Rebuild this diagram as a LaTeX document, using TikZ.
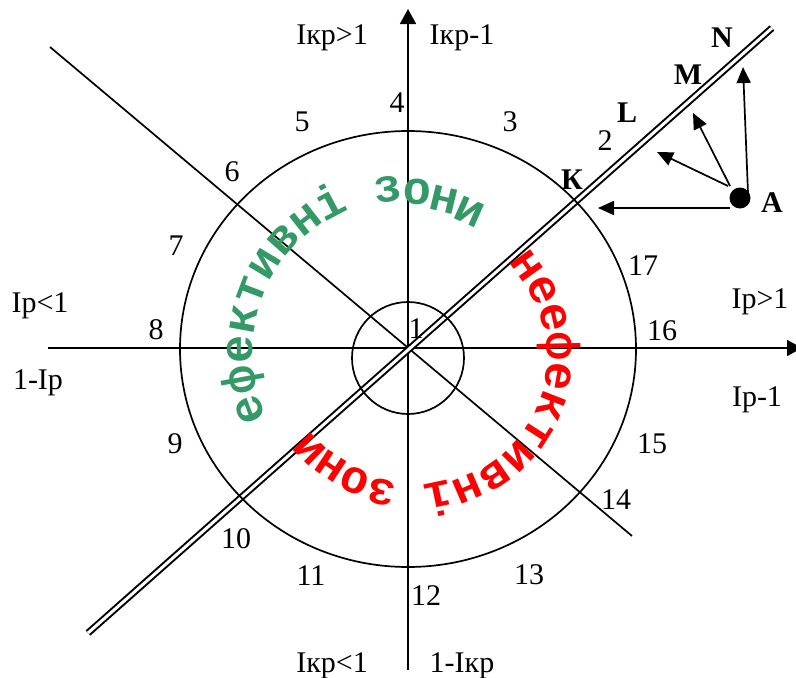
\documentclass[tikz,border=0pt]{standalone}
\usepackage{fontspec}
\setmainfont{Liberation Serif}
\newfontfamily\arcfont{Liberation Mono}
\usetikzlibrary{arrows.meta}
\definecolor{zgreen}{RGB}{51,153,102}
\definecolor{zred}{RGB}{255,0,0}
\begin{document}
\begin{tikzpicture}[x=1pt,y=-1pt,line width=1.7pt,
  lbl/.style={font=\fontsize{30}{30}\selectfont,inner sep=0pt},
  blbl/.style={font=\fontsize{30}{30}\selectfont\bfseries,inner sep=0pt},
  arctext/.style={font=\fontsize{47}{47}\selectfont\arcfont\bfseries,inner sep=0pt,anchor=base},
  axisarrow/.style={-{Triangle[length=15pt,width=16pt]}},
  forcearrow/.style={-{Triangle[length=16pt,width=14pt]}},
  dbl/.style={double,double distance=3pt,line width=2pt}]
\useasboundingbox (0,0) rectangle (796,678);
% axes and lines
\coordinate (hL) at (48,348);
\coordinate (hR) at (802,348);
\coordinate (vB) at (408,670);
\coordinate (vT) at (408,9);
\coordinate (d1) at (50,47);
\coordinate (d2) at (632,536);
\coordinate (e1) at (88,633);
\coordinate (e2) at (772,28);
\draw[axisarrow] (hL) -- (hR);
\draw[axisarrow] (vB) -- (vT);
\draw (d1) -- (d2);
\draw[dbl] (e1) -- (e2);
% circles
\draw (408,349) ellipse [x radius=228pt,y radius=218pt];
\draw (408,358) circle [radius=56pt];
% point A and forces
\node[circle,fill,minimum size=21pt,inner sep=0pt] (A) at (740,198) {};
\coordinate (s1) at (730,208); \coordinate (t1) at (598,208);
\coordinate (s2) at (728,186); \coordinate (t2) at (657,152);
\coordinate (s3) at (730,186); \coordinate (t3) at (693,113);
\coordinate (s4) at (748,193); \coordinate (t4) at (743,67);
\draw[forcearrow] (s1) -- (t1);
\draw[forcearrow] (s2) -- (t2);
\draw[forcearrow] (s3) -- (t3);
\draw[forcearrow] (s4) -- (t4);
% axis labels
\node[lbl] (ikr1) at (332,38) {Iкр>1};
\node[lbl] (ikr2) at (462,38) {Iкр-1};
\node[lbl] (ip1) at (40,306) {Ip<1};
\node[lbl] (ip2) at (38,383) {1-Ip};
\node[lbl] (ip3) at (760,302) {Ip>1};
\node[lbl] (ip4) at (757,400) {Ip-1};
\node[lbl] (ikr3) at (332,666) {Iкр<1};
\node[lbl] (ikr4) at (462,666) {1-Iкр};
% numbers
\node[lbl] (n1) at (416,329) {1};
\node[lbl] (n2) at (605,141) {2};
\node[lbl] (n3) at (510,122) {3};
\node[lbl] (n4) at (397,103) {4};
\node[lbl] (n5) at (302,122) {5};
\node[lbl] (n6) at (232,172) {6};
\node[lbl] (n7) at (176,246) {7};
\node[lbl] (n8) at (156,330) {8};
\node[lbl] (n9) at (175,444) {9};
\node[lbl] (n10) at (236,539) {10};
\node[lbl] (n11) at (311,576) {11};
\node[lbl] (n12) at (426,596) {12};
\node[lbl] (n13) at (529,575) {13};
\node[lbl] (n14) at (616,500) {14};
\node[lbl] (n15) at (652,444) {15};
\node[lbl] (n16) at (662,331) {16};
\node[lbl] (n17) at (643,266) {17};
% bold letters
\node[blbl] (N) at (722,38) {N};
\node[blbl] (M) at (688,75) {M};
\node[blbl] (L) at (627,113) {L};
\node[blbl] (K) at (572,180) {К};
\node[blbl] (Alab) at (772,203) {A};
% curved texts
\foreach \ch/\k/\rr in {е/0/156,ф/1/155,е/2/155,к/3/155,т/4/155,и/5/154,в/6/154,н/7/153,і/8/152,з/10/149,о/11/146,н/12/142,и/13/139}{
  \pgfmathsetmacro\ang{200.6-10.35*\k}
  \node[arctext,text=zgreen,rotate=\ang-90] (g\k) at ({408+\rr*cos(\ang)},{350-\rr*sin(\ang)}) {\ch};
}
\foreach \ch/\k/\rr in {н/0/133,е/1/135,е/2/137,ф/3/139,е/4/140,к/5/141,т/6/141,и/7/141,в/8/140,н/9/138,і/10/135,з/12/132,о/13/129,н/14/127,и/15/127}{
  \pgfmathsetmacro\ang{35.4-11.34*\k}
  \node[arctext,text=zred,rotate=\ang-90] (r\k) at ({408+\rr*cos(\ang)},{350-\rr*sin(\ang)}) {\ch};
}
\end{tikzpicture}
\end{document}
